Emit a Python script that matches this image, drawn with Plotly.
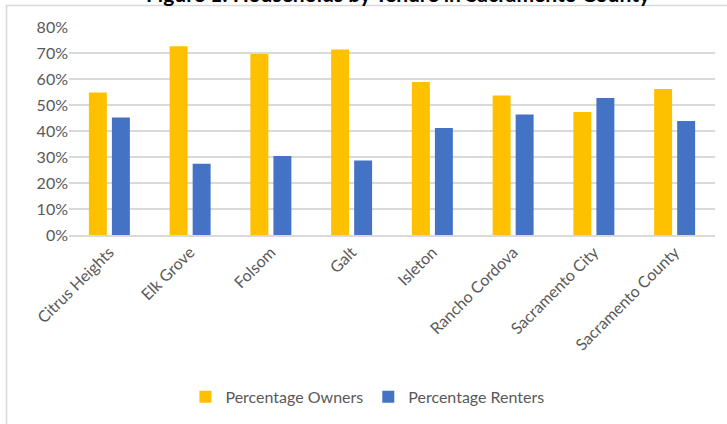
import plotly.graph_objects as go

places = ["Citrus Heights", "Elk Grove", "Folsom", "Galt", "Isleton",
          "Rancho Cordova", "Sacramento City", "Sacramento County"]
owners = [0.548, 0.726, 0.696, 0.713, 0.588, 0.537, 0.473, 0.562]
renters = [0.452, 0.274, 0.304, 0.287, 0.412, 0.463, 0.527, 0.438]

font_name = "Lato"
grey_txt = "#595959"

fig = go.Figure()
fig.add_trace(go.Bar(x=places, y=owners, name="Percentage Owners",
                     marker=dict(color="#FFC000", line=dict(width=0))))
fig.add_trace(go.Bar(x=places, y=renters, name="Percentage Renters",
                     marker=dict(color="#4472C4", line=dict(width=0))))

# title is cut off at the top edge in the original
fig.add_annotation(text="<b>Figure 1: Households by Tenure in Sacramento County</b>",
                   xref="paper", yref="paper", x=0.51, y=1, yanchor="bottom",
                   yshift=19, showarrow=False,
                   font=dict(family=font_name, size=21, color="black"))

# chart area border
fig.add_shape(type="rect", xref="paper", yref="paper",
              x0=-0.0967, x1=1.1, y0=-0.95, y1=1.103,
              line=dict(color="#d9d9d9", width=1.5), layer="below")

fig.update_layout(
    width=727, height=424,
    margin=dict(l=69, r=12, t=27, b=188),
    paper_bgcolor="white", plot_bgcolor="white",
    barmode="group", bargap=0.43, bargroupgap=0.22,
    font=dict(family=font_name, size=16, color=grey_txt),
    showlegend=True,
    legend=dict(orientation="h", x=0.462, xanchor="center",
                y=-0.77, yanchor="middle",
                font=dict(size=16, color=grey_txt)),
    xaxis=dict(tickangle=-45, showgrid=False, showline=True, automargin=False,
               linecolor="#d9d9d9", linewidth=1.5, ticks="",
               tickfont=dict(size=16, color=grey_txt)),
    yaxis=dict(range=[0, 0.8], dtick=0.1, tickformat=".0%", automargin=False,
               showgrid=True, gridcolor="#d9d9d9", gridwidth=1.5,
               zeroline=False, showline=False, ticks="",
               tickfont=dict(size=16, color=grey_txt)),
)

# drop the browser's default body margin so the figure sits at the corner
fig.write_html("out.html", config={"displayModeBar": False},
               post_script="document.body.style.margin='0';")
